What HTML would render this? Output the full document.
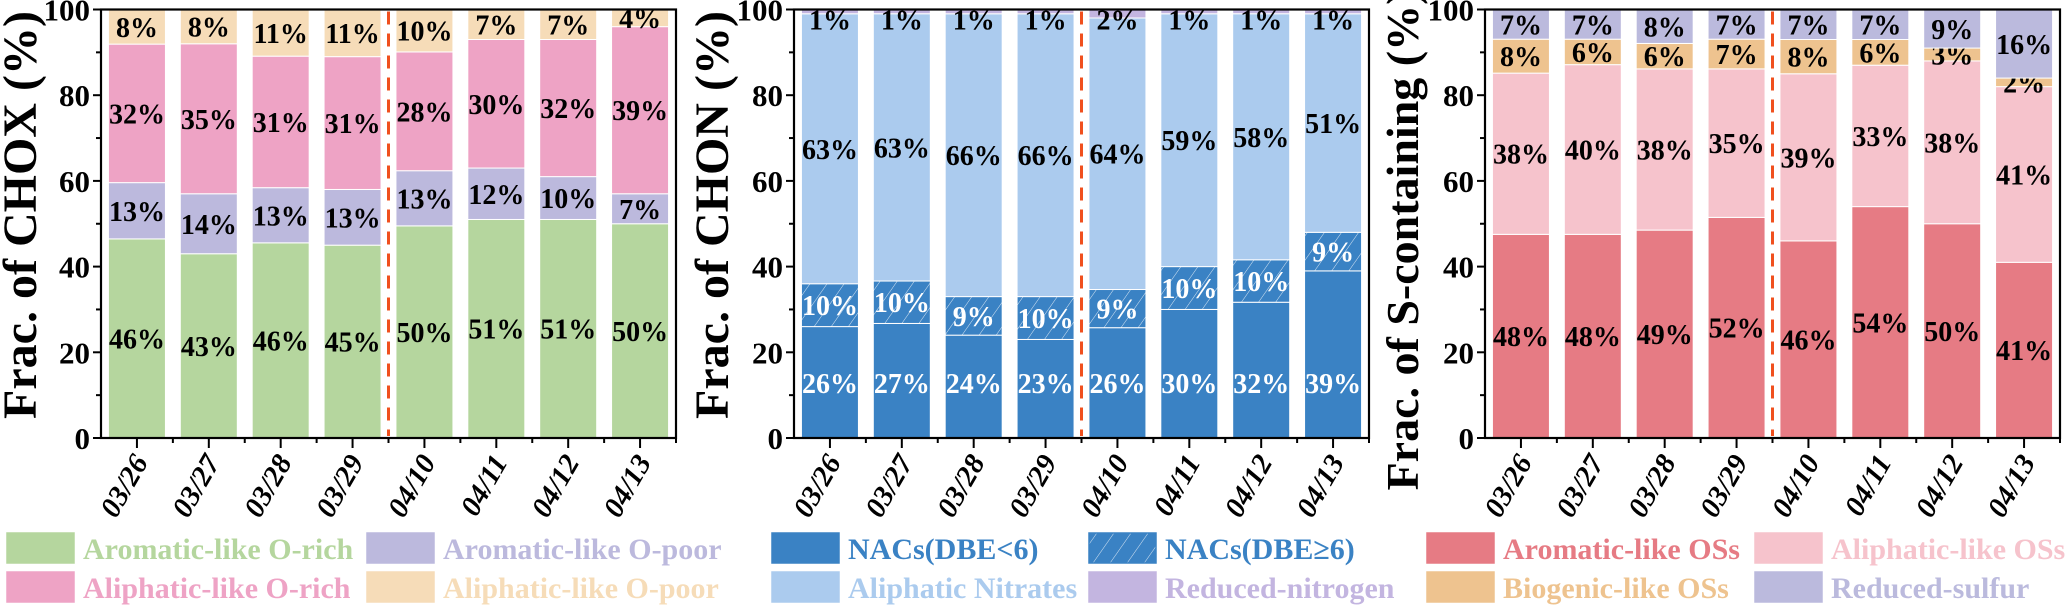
<!DOCTYPE html>
<html><head><meta charset="utf-8">
<style>
html,body{margin:0;padding:0;background:#fff;}
svg{display:block;font-family:"Liberation Serif",serif;}
</style></head>
<body>
<svg id="fig" width="2067" height="606" viewBox="0 0 2067 606" xmlns="http://www.w3.org/2000/svg"></svg>
<script>
const dates = ["03/26","03/27","03/28","03/29","04/10","04/11","04/12","04/13"];
const yTicks = [0,20,40,60,80,100];

// Panel 1: CHOX
const choxAromRich = [46,43,46,45,50,51,51,50];
const choxAromPoor = [13,14,13,13,13,12,10,7];
const choxAliRich  = [32,35,31,31,28,30,32,39];
const choxAliPoor  = [8,8,11,11,10,7,7,4];
// Panel 2: CHON
const chonNacLow   = [26,27,24,23,26,30,32,39];
const chonNacHigh  = [10,10,9,10,9,10,10,9];
const chonAliNit   = [63,63,66,66,64,59,58,51];
const chonRedN     = [1,1,1,1,2,1,1,1];
// Panel 3: S-containing
const sAromOS = [48,48,49,52,46,54,50,41];
const sAliOS  = [38,40,38,35,39,33,38,41];
const sBioOS  = [8,6,6,7,8,6,3,2];
const sRedS   = [7,7,8,7,7,7,9,16];

const NS="http://www.w3.org/2000/svg";
const svg=document.getElementById('fig');
function mk(tag,attrs,parent){const e=document.createElementNS(NS,tag);for(const k in attrs)e.setAttribute(k,attrs[k]);(parent||svg).appendChild(e);return e;}

const defs=mk('defs',{});
const pat=mk('pattern',{id:'hatch',patternUnits:'userSpaceOnUse',width:14,height:14,patternTransform:'rotate(35)'},defs);
mk('rect',{x:0,y:0,width:14,height:14,fill:'#3a82c4'},pat);
mk('line',{x1:0,y1:0,x2:0,y2:14,stroke:'#ffffff','stroke-width':1,'stroke-opacity':0.8},pat);

const TOP=9.5, ZERO=438, PW=575;
function yS(v){return ZERO-(v/100)*(ZERO-TOP);}

const panels=[
 {name:'chox',x0:101,title:'Frac. of CHOX (%)',tx:20,ty:215,tsize:48,
  series:[
   {key:'aromatic-rich',vals:choxAromRich,color:'#b5d69e',lbl:'#000'},
   {key:'aromatic-poor',vals:choxAromPoor,color:'#bcb9dd',lbl:'#000'},
   {key:'aliphatic-rich',vals:choxAliRich,color:'#eea3c5',lbl:'#000'},
   {key:'aliphatic-poor',vals:choxAliPoor,color:'#f6dcb8',lbl:'#000'}]},
 {name:'chon',x0:794,title:'Frac. of CHON (%)',tx:712,ty:215,tsize:48,
  series:[
   {key:'nacs-low-dbe',vals:chonNacLow,color:'#3a82c4',lbl:'#fff',lowLabel:true},
   {key:'nacs-high-dbe',vals:chonNacHigh,color:'url(#hatch)',lbl:'#fff'},
   {key:'aliphatic-nitrates',vals:chonAliNit,color:'#abcbee',lbl:'#000'},
   {key:'reduced-nitrogen',vals:chonRedN,color:'#c3b5e0',lbl:'#000',topLabel:true}]},
 {name:'s-containing',x0:1485,title:'Frac. of S-containing (%)',tx:1402,ty:240,tsize:46,
  series:[
   {key:'aromatic-os',vals:sAromOS,color:'#e67b84',lbl:'#000'},
   {key:'aliphatic-os',vals:sAliOS,color:'#f6c3cc',lbl:'#000'},
   {key:'biogenic-os',vals:sBioOS,color:'#eec38f',lbl:'#000'},
   {key:'reduced-sulfur',vals:sRedS,color:'#bbbadd',lbl:'#000'}]}
];

panels.forEach(p=>{
  const g=mk('g',{});
  
  
  const pitch=PW/dates.length, bw=57;
  function xC(i){return p.x0+pitch*(i+0.5);}
  dates.forEach((d,i)=>{
    let total=0; p.series.forEach(s=>total+=s.vals[i]);
    const k=100/total;
    let cum=0;
    p.series.forEach(s=>{
      const v=s.vals[i];
      const lo=cum*k, hi=Math.min(100,(cum+v)*k); cum+=v;
      const r=mk('rect',{x:xC(i)-bw/2,y:yS(hi),width:bw,height:Math.max(0,yS(lo)-yS(hi)),fill:s.color,stroke:'#fff','stroke-width':1},g);
      
      
      let ly=(yS(lo)+yS(hi))/2+10;
      if(s.lowLabel) ly=yS(lo)-45;
      if(s.topLabel) ly=yS(100)+20;
      const t=mk('text',{x:xC(i),y:ly,'text-anchor':'middle','font-size':28,'font-weight':'bold',fill:s.lbl},g);
      t.textContent=v+'%';
      
      
    });
  });
  const dl=mk('line',{x1:p.x0+pitch*4,x2:p.x0+pitch*4,y1:TOP+2,y2:ZERO-2,stroke:'#f0501e','stroke-width':3,'stroke-dasharray':'13 9'},g);
  
  
  const fr=mk('rect',{x:p.x0,y:TOP,width:PW,height:ZERO-TOP,fill:'none',stroke:'#000','stroke-width':2.2},g);
  
  
  for(let v=0;v<=100;v+=10){
    mk('line',{x1:p.x0,x2:p.x0-(v%20===0?8:5),y1:yS(v),y2:yS(v),stroke:'#000','stroke-width':2},g);
  }
  yTicks.forEach(v=>{
    const t=mk('text',{x:p.x0-11,y:yS(v)+11,'text-anchor':'end','font-size':31,'font-weight':'bold'},g);
    t.textContent=v;
    
    
  });
  dates.forEach((d,i)=>{
    mk('line',{x1:xC(i),x2:xC(i),y1:ZERO,y2:ZERO+10,stroke:'#000','stroke-width':2},g);
    mk('line',{x1:p.x0+pitch*(i+1),x2:p.x0+pitch*(i+1),y1:ZERO,y2:ZERO+5,stroke:'#000','stroke-width':2},g);
    const t=mk('text',{x:0,y:0,'text-anchor':'end','font-size':29,'font-weight':'bold','font-style':'italic',transform:`translate(${xC(i)+12},${ZERO+24}) rotate(-60)`},g);
    t.textContent=d;
    
    
  });
  const yt=mk('text',{x:0,y:0,'text-anchor':'middle','font-size':p.tsize,'font-weight':'bold',transform:`translate(${p.tx+16},${p.ty}) rotate(-90)`},g);
  yt.textContent=p.title;
  
  
});

const legend=[
 {x:7,  y:533,label:'Aromatic-like O-rich',color:'#b5d69e'},
 {x:367,y:533,label:'Aromatic-like O-poor',color:'#bcb9dd'},
 {x:7,  y:572,label:'Aliphatic-like O-rich',color:'#eea3c5'},
 {x:367,y:572,label:'Aliphatic-like O-poor',color:'#f6dcb8'},
 {x:772,y:533,label:'NACs(DBE<6)',color:'#3a82c4'},
 {x:1089,y:533,label:'NACs(DBE≥6)',color:'#3a82c4',hatch:true},
 {x:772,y:572,label:'Aliphatic Nitrates',color:'#abcbee'},
 {x:1089,y:572,label:'Reduced-nitrogen',color:'#c3b5e0'},
 {x:1427,y:533,label:'Aromatic-like OSs',color:'#e67b84'},
 {x:1755,y:533,label:'Aliphatic-like OSs',color:'#f6c3cc'},
 {x:1427,y:572,label:'Biogenic-like OSs',color:'#eec38f'},
 {x:1755,y:572,label:'Reduced-sulfur',color:'#bbbadd'}
];
legend.forEach(l=>{
  const g=mk('g',{});
  
  
  mk('rect',{x:l.x,y:l.y,width:67,height:30,fill:l.hatch?'url(#hatch)':l.color,stroke:l.color,'stroke-width':1.5},g);
  const t=mk('text',{x:l.x+76,y:l.y+26,'font-size':30,'font-weight':'bold',fill:l.color},g);
  t.textContent=l.label;
});
</script>
</body></html>
